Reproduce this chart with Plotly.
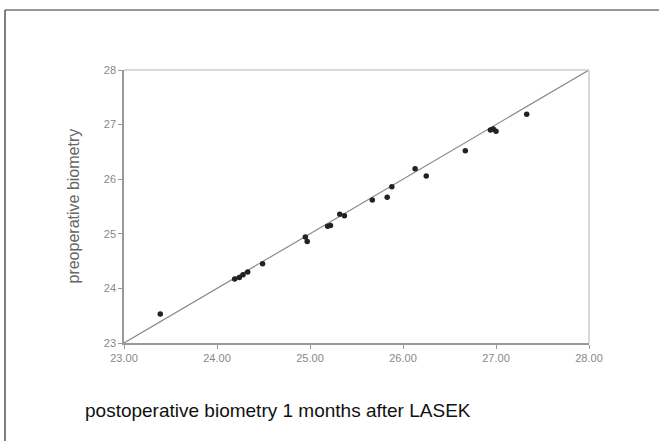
import plotly.graph_objects as go

post_x = [23.39, 24.19, 24.24, 24.28, 24.33, 24.49, 24.95, 24.97, 25.19, 25.22, 25.32, 25.37,
          25.67, 25.83, 25.88, 26.13, 26.25, 26.67, 26.94, 26.97, 27.00, 27.33]
pre_y = [23.53, 24.17, 24.20, 24.25, 24.30, 24.45, 24.94, 24.86, 25.14, 25.15, 25.36, 25.33,
         25.62, 25.67, 25.86, 26.19, 26.06, 26.52, 26.90, 26.92, 26.88, 27.19]
line_xy = [23, 28]
x_ticks = [23, 24, 25, 26, 27, 28]
x_tick_labels = ["23.00", "24.00", "25.00", "26.00", "27.00", "28.00"]
y_ticks = [23, 24, 25, 26, 27, 28]
y_tick_labels = ["23", "24", "25", "26", "27", "28"]

W, H = 659, 441
L, R, T, B = 124, 589, 70, 343

fig = go.Figure()
fig.add_trace(go.Scatter(x=line_xy, y=line_xy, mode="lines",
                         line=dict(color="#8a8a8a", width=1.2), hoverinfo="skip"))
fig.add_trace(go.Scatter(x=post_x, y=pre_y, mode="markers",
                         marker=dict(color="#222222", size=5.5, symbol="circle")))

def px(xp):
    return (xp - L) / (R - L)

def py(yp):
    return (B - yp) / (B - T)

shapes = [
    # outer frame (left and top)
    dict(type="line", xref="paper", yref="paper", x0=px(5), x1=px(5), y0=py(10), y1=py(445),
         line=dict(color="#555555", width=1.5)),
    dict(type="line", xref="paper", yref="paper", x0=px(5), x1=px(665), y0=py(10), y1=py(10),
         line=dict(color="#333333", width=1.2)),
    # plot top/right border
    dict(type="line", xref="paper", yref="paper", x0=0, x1=1, y0=1, y1=1,
         line=dict(color="#cccccc", width=1.5)),
    dict(type="line", xref="paper", yref="paper", x0=1, x1=1, y0=0, y1=1,
         line=dict(color="#cccccc", width=1.5)),
]

fig.update_layout(
    width=W, height=H,
    margin=dict(l=L, r=W - R, t=T, b=H - B),
    paper_bgcolor="white", plot_bgcolor="white",
    showlegend=False,
    shapes=shapes,
    font=dict(family="Liberation Sans, Arial, sans-serif"),
    xaxis=dict(range=[23, 28], tickvals=x_ticks, ticktext=x_tick_labels,
               showgrid=False, zeroline=False, showline=True, linecolor="#999999", linewidth=1.5,
               ticks="outside", ticklen=4, tickcolor="#999999",
               tickfont=dict(size=11, color="#888888")),
    yaxis=dict(range=[23, 28], tickvals=y_ticks, ticktext=y_tick_labels,
               showgrid=False, zeroline=False, showline=True, linecolor="#999999", linewidth=1.5,
               ticks="outside", ticklen=4, tickcolor="#999999",
               tickfont=dict(size=11, color="#888888")),
    annotations=[
        dict(text="preoperative biometry", xref="paper", yref="paper",
             x=px(73), y=0.5, textangle=-90, showarrow=False,
             font=dict(size=16, color="#666666"), xanchor="center", yanchor="middle"),
        dict(text="postoperative biometry 1 months after LASEK", xref="paper", yref="paper",
             x=px(278), y=py(410), showarrow=False,
             font=dict(size=19, color="#111111"), xanchor="center", yanchor="middle"),
    ],
)

fig.write_html("out.html", config={"displayModeBar": False},
               post_script="document.body.style.margin='0';document.body.style.overflow='hidden';")
